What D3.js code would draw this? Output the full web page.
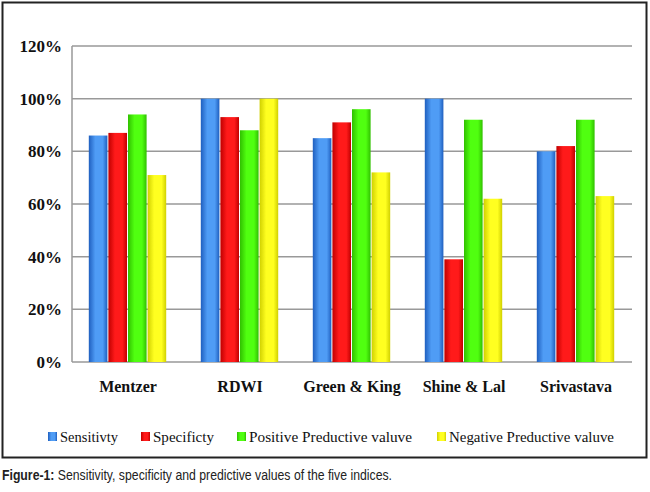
<!DOCTYPE html><html><head><meta charset="utf-8"><script src="https://cdn.jsdelivr.net/npm/d3@7"></script>
<style>body{margin:0;background:#fff}</style></head><body><svg id="c" width="650" height="492"></svg>
<script>
const categories=["Mentzer","RDWI","Green & King","Shine & Lal","Srivastava"];
const seriesNames=["Sensitivty","Specificty","Positive Preductive valuve","Negative Preductive valuve"];
const sensitivity=[86,100,85,100,80];
const specificity=[87,93,91,39,82];
const ppv=[94,88,96,92,92];
const npv=[71,100,72,62,63];
const yTicks=[0,20,40,60,80,100,120];
const colors=[["#1f5fbf","#4f9cf5"],["#c00000","#ff1a1a"],["#30c000","#50ff10"],["#d0d000","#ffff20"]];
const series=[sensitivity,specificity,ppv,npv];
const SERIF="'Liberation Serif','Times New Roman',Times,serif";
const svg=d3.select("#c");
svg.append("rect").attr("x",2.5).attr("y",2.5).attr("width",644).attr("height",455).attr("fill","#fff").attr("stroke","#222").attr("stroke-width",2);
const defs=svg.append("defs");
colors.forEach((c,i)=>{const g=defs.append("linearGradient").attr("id","g"+i);
g.append("stop").attr("offset","0").attr("stop-color",c[0]);
g.append("stop").attr("offset","0.35").attr("stop-color",c[1]);
g.append("stop").attr("offset","0.75").attr("stop-color",c[1]);
g.append("stop").attr("offset","1").attr("stop-color",c[0]);});
const x0=72,x1=632,yb=362,yt=46;
const y=d3.scaleLinear().domain([0,120]).range([yb,yt]);
const xb=d3.scaleBand().domain(categories).range([x0,x1]).paddingInner(0.3).paddingOuter(0.15);
const xs=d3.scaleBand().domain(d3.range(4)).range([0,xb.bandwidth()]);
svg.append("g").selectAll("line").data(yTicks).join("line").attr("x1",x0).attr("x2",x1).attr("y1",d=>y(d)).attr("y2",d=>y(d)).attr("stroke","#999").attr("stroke-width",1.5);
svg.append("line").attr("x1",x0).attr("x2",x0).attr("y1",yt).attr("y2",yb).attr("stroke","#999").attr("stroke-width",1.5);
const yAxis=d3.axisLeft(y).tickValues(yTicks).tickFormat(d=>d+"%").tickSize(0).tickPadding(10);
const ga=svg.append("g").attr("transform",`translate(${x0},0)`).call(yAxis);
ga.select(".domain").remove();
ga.selectAll("text").attr("font-family",SERIF).attr("font-weight","bold").attr("font-size",17).attr("fill","#111");
categories.forEach((cat,ci)=>{series.forEach((s,si)=>{
svg.append("rect").attr("x",xb(cat)+xs(si)).attr("width",xs.bandwidth()-1).attr("y",y(s[ci])).attr("height",yb-y(s[ci])).attr("fill",`url(#g${si})`);
});
svg.append("text").attr("x",xb(cat)+xb.bandwidth()/2).attr("y",392).attr("text-anchor","middle").attr("font-family",SERIF).attr("font-weight","bold").attr("font-size",16).attr("fill","#111").text(cat);});
const legX=[48,141,237,437];
const legW=[58,61,163,165];
seriesNames.forEach((n,i)=>{
svg.append("rect").attr("x",legX[i]).attr("y",432).attr("width",9).attr("height",9).attr("fill",`url(#g${i})`);
svg.append("text").attr("x",legX[i]+12).attr("y",442).attr("font-family",SERIF).attr("font-size",15).attr("fill","#111").attr("textLength",legW[i]).attr("lengthAdjust","spacingAndGlyphs").text(n);});
const cap=svg.append("text").attr("x",2).attr("y",480).attr("font-family","'Liberation Sans Narrow','Liberation Sans',sans-serif").attr("font-size",14).attr("fill","#222").attr("textLength",390).attr("lengthAdjust","spacingAndGlyphs");
cap.append("tspan").attr("font-weight","bold").text("Figure-1:");
cap.append("tspan").text(" Sensitivity, specificity and predictive values of the five indices.");
</script></body></html>
